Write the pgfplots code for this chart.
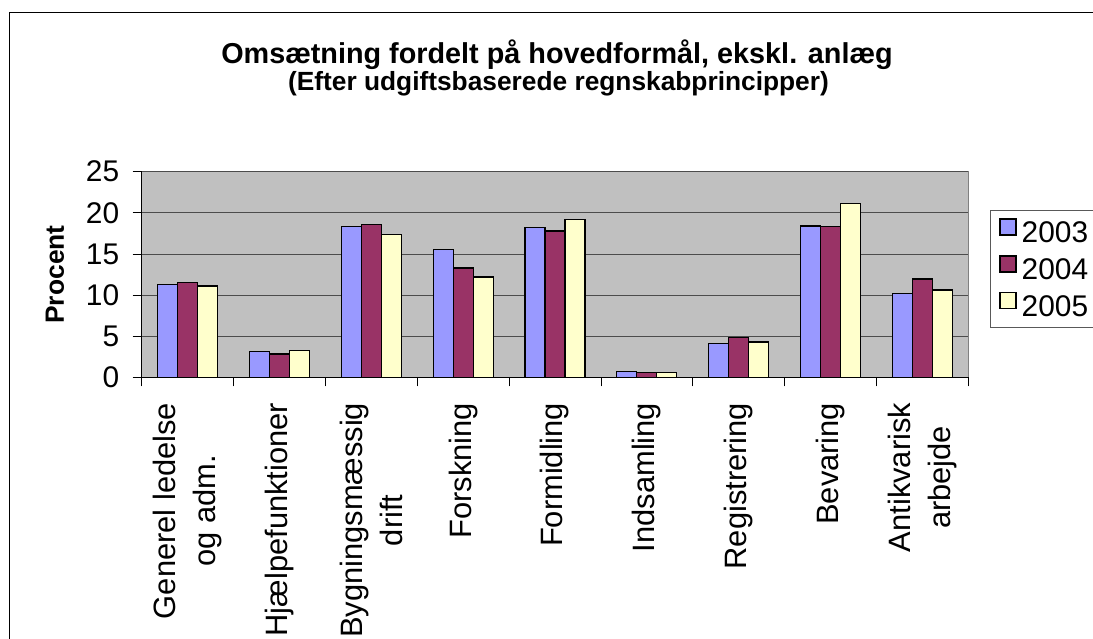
\documentclass[border=0pt]{standalone}
\usepackage{fontspec}
\setmainfont{Liberation Sans}
\usepackage{pgfplots}
\pgfplotsset{compat=1.18}
\definecolor{cA}{HTML}{9999FF}
\definecolor{cB}{HTML}{993366}
\definecolor{cC}{HTML}{FFFFCC}
\definecolor{bgc}{HTML}{C0C0C0}
\newcommand{\lf}{\fontsize{31}{40}\selectfont}
\begin{document}
\begin{tikzpicture}
\useasboundingbox (0,0) rectangle (1093bp,-639bp);
\draw[black, line width=1bp] (9bp,-12bp) rectangle (1110bp,-660bp);
\node[anchor=base, font=\bfseries\fontsize{28.9}{32}\selectfont] at (557bp,-63bp) {Omsætning fordelt på hovedformål, ekskl. anlæg};
\node[anchor=base, font=\bfseries\fontsize{26.4}{30}\selectfont] at (558.5bp,-90bp) {(Efter udgiftsbaserede regnskabprincipper)};
\begin{axis}[
  scale only axis,
  width=826.6bp, height=205.6bp,
  at={(141.7bp,-377.3bp)}, anchor=south west,
  xmin=-0.5, xmax=8.5, ymin=0, ymax=25,
  enlargelimits=false,
  ybar=0pt, bar width=20bp,
  axis background/.style={fill=bgc, draw=gray, line width=1bp},
  axis x line*=bottom, axis y line*=left,
  axis line style={-, black, line width=1bp},
  tick align=outside,
  major tick length=9bp,
  tick style={black, line width=0.8bp},
  xtick={-0.5,0.5,...,8.5},
  xticklabels={},
  extra x ticks={0,1,2,3,4,5,6,7,8},
  extra x tick labels={{Generel ledelse\\og adm.},Hjælpefunktioner,{Bygningsmæssig\\drift},Forskning,Formidling,Indsamling,Registrering,Bevaring,{Antikvarisk\\arbejde}},
  extra x tick style={major tick length=0pt, grid=none},
  xticklabel shift=22bp,
  x tick label style={rotate=90, anchor=east, align=center, font=\lf},
  ytick={0,5,10,15,20,25},
  ymajorgrids,
  grid style={black!70, line width=0.8bp},
  /pgf/number format/assume math mode=true,
  y tick label style={font=\fontsize{30}{34}\selectfont, xshift=-10bp},
  ylabel={\bfseries Procent},
  ylabel style={at={(axis description cs:-0.105,0.5)}, anchor=center, font=\fontsize{26.5}{30}\selectfont},
  legend style={at={(axis description cs:1.0263,0.8137)}, anchor=north west,
    draw=gray!70!black, fill=white, line width=0.8bp,
    font=\fontsize{30}{34}\selectfont, row sep=9bp, inner xsep=9bp, inner ysep=8bp,
    /tikz/every odd column/.append style={column sep=3bp}},
  legend image code/.code={\draw[#1, line width=1.3bp] (0bp,-2bp) rectangle (16bp,14bp);},
  legend cell align=left,
]
\addplot[fill=cA, draw=black, line width=1.3bp] coordinates {(0,11.3) (1,3.1) (2,18.35) (3,15.5) (4,18.2) (5,0.7) (6,4.1) (7,18.4) (8,10.2)};
\addplot[fill=cB, draw=black, line width=1.3bp] coordinates {(0,11.5) (1,2.85) (2,18.6) (3,13.3) (4,17.8) (5,0.6) (6,4.85) (7,18.35) (8,11.95)};
\addplot[fill=cC, draw=black, line width=1.3bp] coordinates {(0,11.1) (1,3.25) (2,17.4) (3,12.2) (4,19.2) (5,0.55) (6,4.3) (7,21.15) (8,10.6)};
\legend{2003,2004,2005}
\end{axis}
\end{tikzpicture}
\end{document}
